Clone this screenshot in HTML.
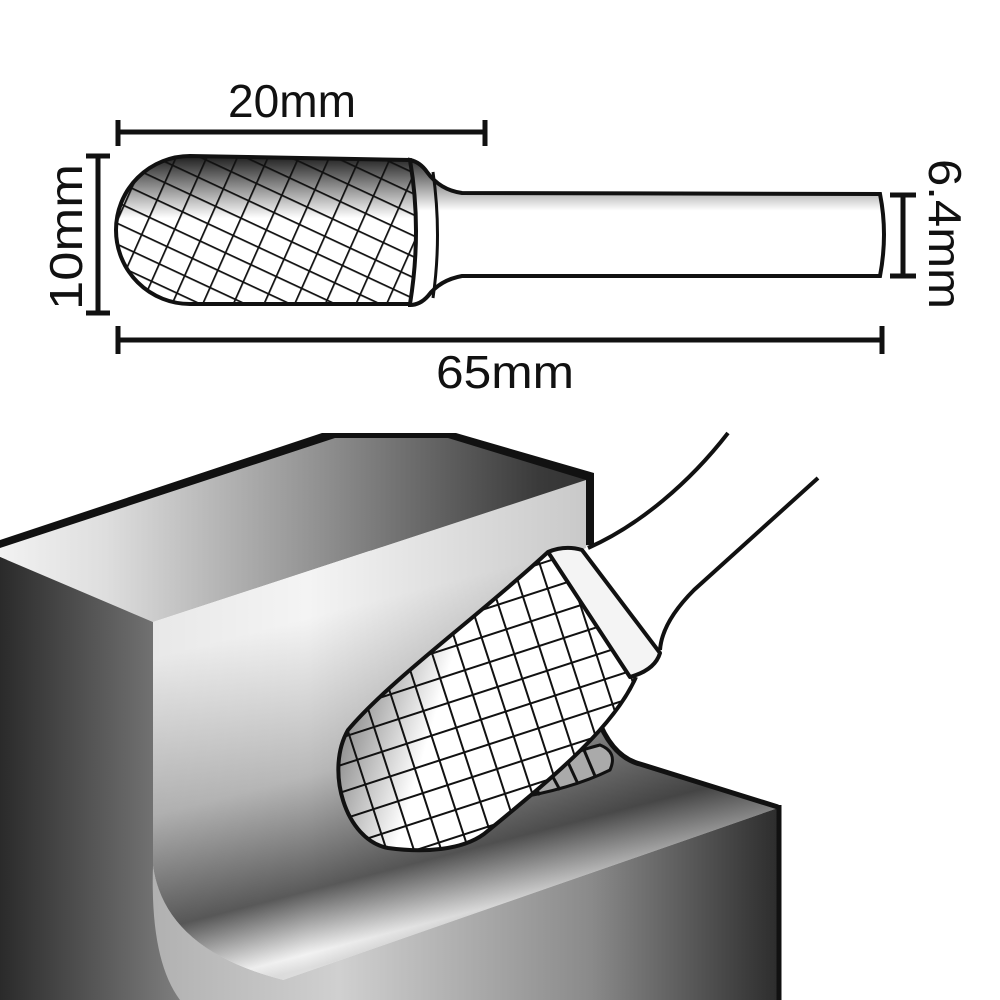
<!DOCTYPE html>
<html><head><meta charset="utf-8"><style>
html,body{margin:0;padding:0;background:#fff;}
svg{display:block;}
text{font-family:"Liberation Sans",sans-serif;fill:#111;}
</style></head><body>
<svg width="1000" height="1000" viewBox="0 0 1000 1000" xmlns="http://www.w3.org/2000/svg">
<defs>
<linearGradient id="headTop" x1="0" y1="0" x2="0" y2="1">
<stop offset="0" stop-color="#1e1e1e"/><stop offset="0.42" stop-color="#fff"/><stop offset="1" stop-color="#fff"/></linearGradient>
<linearGradient id="shaft" x1="0" y1="0" x2="0" y2="1">
<stop offset="0" stop-color="#333"/><stop offset="0.35" stop-color="#fff"/><stop offset="1" stop-color="#fff"/></linearGradient>
<pattern id="hatch1" width="19" height="19" patternUnits="userSpaceOnUse" patternTransform="rotate(25)">
<line x1="0" y1="0" x2="19" y2="0" stroke="#111" stroke-width="3.5"/></pattern>
<pattern id="hatch2" width="28" height="28" patternUnits="userSpaceOnUse" patternTransform="rotate(24)">
<line x1="0" y1="0" x2="0" y2="28" stroke="#111" stroke-width="3.5"/></pattern>
<pattern id="hatch3" width="26" height="26" patternUnits="userSpaceOnUse" patternTransform="rotate(-18)">
<line x1="0" y1="0" x2="26" y2="0" stroke="#111" stroke-width="4"/><line x1="0" y1="0" x2="0" y2="26" stroke="#111" stroke-width="4"/></pattern>
<linearGradient id="leftFace" x1="0" y1="0" x2="1" y2="0">
<stop offset="0" stop-color="#2a2a2a"/><stop offset="0.85" stop-color="#9a9a9a"/><stop offset="1" stop-color="#aaa"/></linearGradient>
<linearGradient id="topFace" x1="0" y1="0" x2="1" y2="0">
<stop offset="0" stop-color="#f2f2f2"/><stop offset="0.18" stop-color="#dedede"/><stop offset="0.55" stop-color="#909090"/><stop offset="0.92" stop-color="#3a3a3a"/><stop offset="1" stop-color="#333"/></linearGradient>
<linearGradient id="frontFace" gradientUnits="userSpaceOnUse" x1="300" y1="620" x2="385" y2="948">
<stop offset="0" stop-color="#f4f4f4"/><stop offset="0.45" stop-color="#b8b8b8"/><stop offset="0.78" stop-color="#5a5a5a"/><stop offset="0.96" stop-color="#f2f2f2"/><stop offset="1" stop-color="#ddd"/></linearGradient>
<linearGradient id="frontShade" gradientUnits="userSpaceOnUse" x1="150" y1="0" x2="780" y2="0">
<stop offset="0" stop-color="#000" stop-opacity="0.05"/><stop offset="0.25" stop-color="#000" stop-opacity="0"/><stop offset="1" stop-color="#000" stop-opacity="0.3"/></linearGradient>
<linearGradient id="lowFront" gradientUnits="userSpaceOnUse" x1="150" y1="0" x2="780" y2="0">
<stop offset="0" stop-color="#b0b0b0"/><stop offset="0.3" stop-color="#d0d0d0"/><stop offset="0.7" stop-color="#8a8a8a"/><stop offset="1" stop-color="#2c2c2c"/></linearGradient>
<linearGradient id="headB" x1="0" y1="0" x2="1" y2="0.3">
<stop offset="0" stop-color="#444"/><stop offset="0.45" stop-color="#fff"/><stop offset="1" stop-color="#fff"/></linearGradient>
<clipPath id="topHead"><path d="M190,156 L410,160 Q422,230 410,304 L190,304 A74,74 0 0 1 190,156 Z"/></clipPath>
<clipPath id="botHead"><path d="M548,552 C480,615 390,680 348,730 C325,770 345,840 388,848 C425,853 462,850 484,834 C560,772 615,725 636,677 Z"/></clipPath>
</defs>

<!-- dimensions -->
<g stroke="#111" stroke-width="5" fill="none">
<line x1="118" y1="132" x2="485" y2="132"/><line x1="118" y1="120" x2="118" y2="146"/><line x1="485" y1="120" x2="485" y2="146"/>
<line x1="98" y1="156" x2="98" y2="313"/><line x1="86" y1="156" x2="110" y2="156"/><line x1="86" y1="313" x2="110" y2="313"/>
<line x1="903" y1="195" x2="903" y2="276"/><line x1="890" y1="195" x2="916" y2="195"/><line x1="890" y1="276" x2="916" y2="276"/>
<line x1="118" y1="340" x2="882" y2="340"/><line x1="118" y1="326" x2="118" y2="354"/><line x1="882" y1="326" x2="882" y2="354"/>
</g>
<text x="292" y="117" font-size="46" text-anchor="middle" textLength="128" lengthAdjust="spacingAndGlyphs">20mm</text>
<text x="505" y="388" font-size="46" text-anchor="middle" textLength="138" lengthAdjust="spacingAndGlyphs">65mm</text>
<text transform="translate(82,237) rotate(-90)" font-size="46" text-anchor="middle" textLength="146" lengthAdjust="spacingAndGlyphs">10mm</text>
<text transform="translate(929,234) rotate(90)" font-size="46" text-anchor="middle" textLength="150" lengthAdjust="spacingAndGlyphs">6.4mm</text>

<!-- top burr -->
<path d="M410,160 Q420,162 427,172 Q440,190 462,193 L880,194 Q888,234 880,276 L462,276 Q440,280 428,296 Q420,305 410,305 Z" fill="url(#shaft)" stroke="#111" stroke-width="4"/>
<path d="M190,156 L410,160 Q422,230 410,304 L190,304 A74,74 0 0 1 190,156 Z" fill="url(#headTop)"/>
<g clip-path="url(#topHead)"><rect x="100" y="140" width="330" height="180" fill="url(#hatch1)"/><rect x="100" y="140" width="330" height="180" fill="url(#hatch2)"/></g>
<path d="M190,156 L410,160 Q422,230 410,304 L190,304 A74,74 0 0 1 190,156 Z" fill="none" stroke="#111" stroke-width="4"/>
<path d="M433,172 Q442,235 433,298" fill="none" stroke="#111" stroke-width="3"/>

<!-- bottom scene -->
<path d="M0,540 L322,433 L456,433 L594,473 L594,545 L0,560 Z" fill="#111"/>
<path d="M0,548 L335,438 L448,438 L586,480 L153,622 L0,557 Z" fill="url(#topFace)"/>
<path d="M0,557 L153,622 L153,866 Q165,950 283,980 L283,1000 L0,1000 Z" fill="url(#leftFace)"/>
<path d="M153,622 L586,480 L586,545 L597,717 Q610,755 640,762 L778,807 L778,808 L283,980 Q165,950 153,866 Z" fill="url(#frontFace)"/>
<path d="M153,622 L586,480 L586,545 L597,717 Q610,755 640,762 L778,807 L778,808 L283,980 Q165,950 153,866 Z" fill="url(#frontShade)"/>
<path d="M153,866 Q165,950 283,980 L778,808 L778,1000 L180,1000 Q150,960 153,866 Z" fill="url(#lowFront)"/>
<path d="M586,480 L594,473 L594,545 L586,545 Z" fill="#111"/>
<path d="M597,717 Q612,757 640,764 L778,807" fill="none" stroke="#111" stroke-width="5"/>
<line x1="779" y1="805" x2="779" y2="1000" stroke="#111" stroke-width="5"/>
<!-- shaft -->
<path d="M728,433 L818,433 L818,478 L692,592 Q662,622 660,650 L582,550 Q640,520 728,433 Z" fill="#fff"/>
<path d="M728,433 C690,482 640,525 588,548" fill="none" stroke="#111" stroke-width="4"/>
<path d="M818,478 L694,590 Q662,622 660,650" fill="none" stroke="#111" stroke-width="4"/>
<!-- chip -->
<path d="M505,800 Q540,760 600,745 Q618,752 610,770 Q570,790 505,800 Z" fill="#aaa" stroke="#111" stroke-width="3"/>
<g stroke="#111" stroke-width="3"><line x1="530" y1="780" x2="540" y2="795"/><line x1="548" y1="768" x2="560" y2="790"/><line x1="566" y1="758" x2="578" y2="784"/><line x1="584" y1="750" x2="595" y2="776"/></g>
<!-- head -->
<path d="M548,552 C480,615 390,680 348,730 C325,770 345,840 388,848 C425,853 462,850 484,834 C560,772 615,725 636,677 Z" fill="url(#headB)"/>
<g clip-path="url(#botHead)"><rect x="320" y="540" width="340" height="320" fill="url(#hatch3)"/></g>
<path d="M548,552 C480,615 390,680 348,730 C325,770 345,840 388,848 C425,853 462,850 484,834 C560,772 615,725 636,677" fill="none" stroke="#111" stroke-width="4"/>
<!-- collar -->
<path d="M548,552 Q565,545 582,550 L660,653 Q655,670 630,677 Z" fill="#f4f4f4" stroke="#111" stroke-width="4" stroke-linejoin="round"/>
</svg>
</body></html>
